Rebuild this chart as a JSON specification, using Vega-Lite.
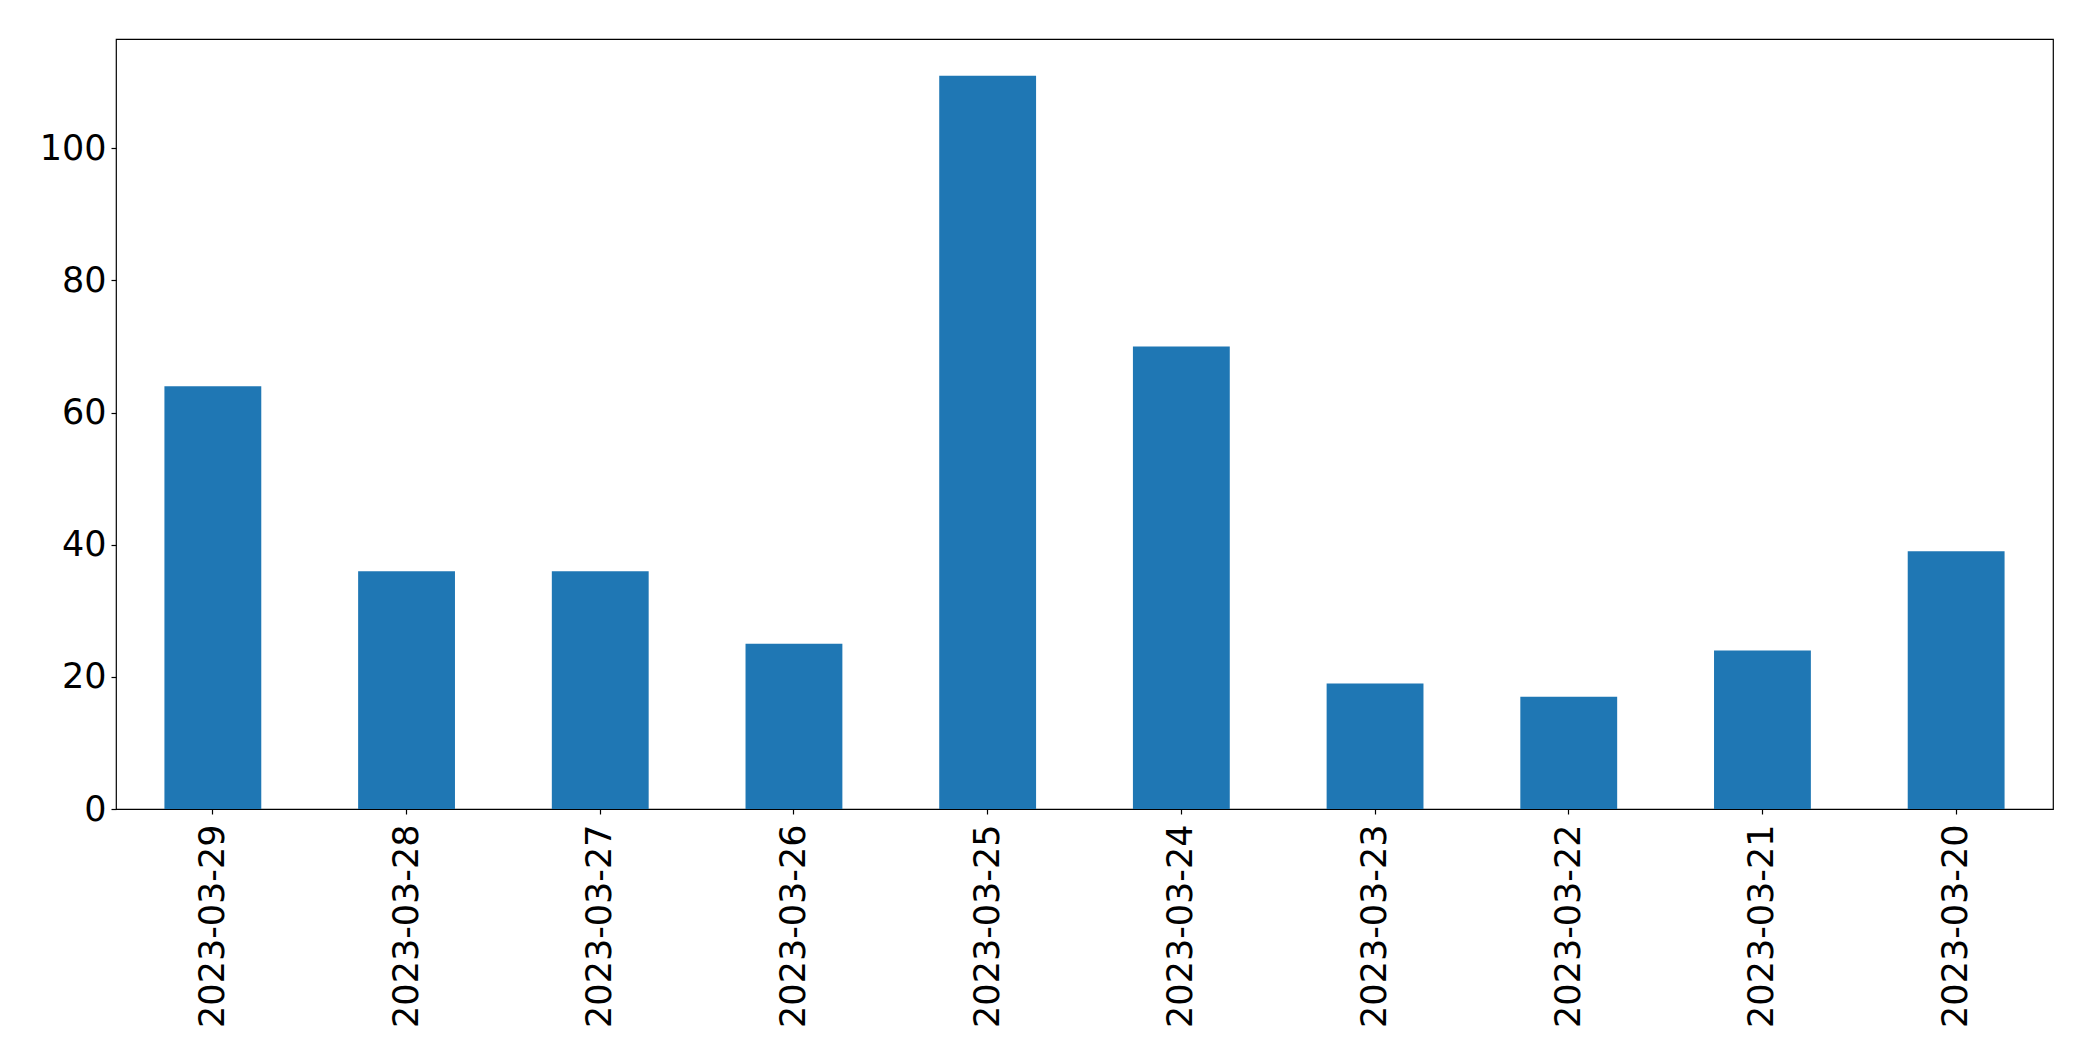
{
  "$schema": "https://vega.github.io/schema/vega-lite/v6.json",
  "width": 1937,
  "height": 770,
  "autosize": {"type": "none"},
  "padding": {"left": 116, "top": 39, "right": 40, "bottom": 252},
  "background": "white",
  "config": {
    "view": {"stroke": "black", "strokeWidth": 1.2},
    "font": "DejaVu Sans",
    "axis": {
      "grid": false,
      "domain": false,
      "tickColor": "black",
      "tickSize": 5,
      "tickWidth": 1.2,
      "labelColor": "black",
      "labelFont": "DejaVu Sans",
      "labelFontSize": 35,
      "labelLimit": 0,
      "labelOverlap": false,
      "title": null
    }
  },
  "data": {
    "values": [
      {"date": "2023-03-29", "count": 64},
      {"date": "2023-03-28", "count": 36},
      {"date": "2023-03-27", "count": 36},
      {"date": "2023-03-26", "count": 25},
      {"date": "2023-03-25", "count": 111},
      {"date": "2023-03-24", "count": 70},
      {"date": "2023-03-23", "count": 19},
      {"date": "2023-03-22", "count": 17},
      {"date": "2023-03-21", "count": 24},
      {"date": "2023-03-20", "count": 39}
    ]
  },
  "mark": {"type": "bar", "color": "#1f77b4"},
  "encoding": {
    "x": {
      "field": "date",
      "type": "nominal",
      "sort": null,
      "scale": {"paddingInner": 0.5, "paddingOuter": 0.25},
      "axis": {"labelAngle": -90, "labelAlign": "right", "labelBaseline": "middle", "labelPadding": 10}
    },
    "y": {
      "field": "count",
      "type": "quantitative",
      "scale": {"domain": [0, 116.55], "nice": false},
      "axis": {"values": [0, 20, 40, 60, 80, 100], "labelPadding": 5}
    }
  }
}
